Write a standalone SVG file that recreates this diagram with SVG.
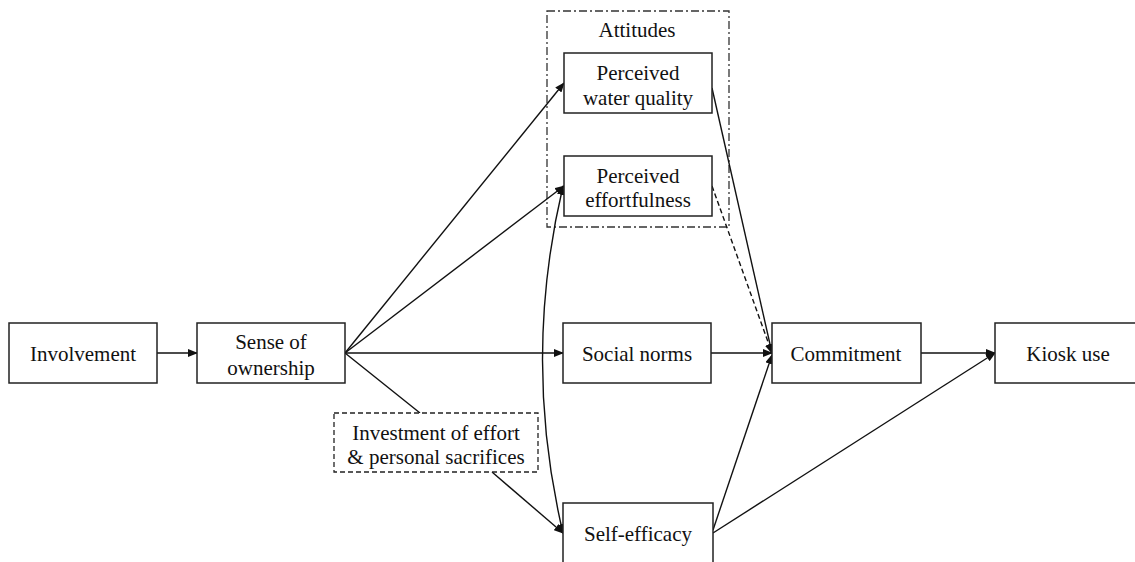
<svg xmlns="http://www.w3.org/2000/svg" width="1135" height="562" viewBox="0 0 1135 562">
<style>
.box{fill:#fff;stroke:#222;stroke-width:1.5}
.dash{fill:#fff;stroke:#222;stroke-width:1.3;stroke-dasharray:5,3}
.dd{fill:none;stroke:#333;stroke-width:1.3;stroke-dasharray:8,3,2,3}
.t{font-family:"Liberation Serif","Times New Roman",serif;font-size:21px;fill:#111;text-anchor:middle}
.c{fill:none;stroke:#111;stroke-width:1.4}
.cd{fill:none;stroke:#111;stroke-width:1.4;stroke-dasharray:5,3}
</style>
<defs>
<marker id="a" markerWidth="10" markerHeight="8" refX="9" refY="4" orient="auto" markerUnits="userSpaceOnUse">
<path d="M0,0 L10,4 L0,8 Z" fill="#111"/>
</marker>
<marker id="as" markerWidth="10" markerHeight="8" refX="1" refY="4" orient="auto" markerUnits="userSpaceOnUse">
<path d="M10,0 L0,4 L10,8 Z" fill="#111"/>
</marker>
</defs>
<rect fill="#fff" width="1135" height="562"/>
<g id="attitudes-group">
<rect class="dd" x="547" y="11" width="182" height="216"/>
<text class="t" x="637" y="37">Attitudes</text>
</g>
<g id="connectors">
<line class="c" x1="157" y1="353" x2="197" y2="353" marker-end="url(#a)"/>
<line class="c" x1="345" y1="353" x2="564" y2="83" marker-end="url(#a)"/>
<line class="c" x1="345" y1="353" x2="564" y2="186" marker-end="url(#a)"/>
<line class="c" x1="345" y1="353" x2="563" y2="353" marker-end="url(#a)"/>
<line class="c" x1="345" y1="353" x2="420" y2="413"/>
<line class="c" x1="492" y1="472" x2="563" y2="533" marker-end="url(#a)"/>
<path class="c" d="M563,186 Q522,360 563,533" marker-start="url(#as)" marker-end="url(#a)"/>
<line class="c" x1="712" y1="88" x2="772" y2="353" marker-end="url(#a)"/>
<line class="cd" x1="712" y1="186" x2="772" y2="353" marker-end="url(#a)"/>
<line class="c" x1="711" y1="353" x2="772" y2="353" marker-end="url(#a)"/>
<line class="c" x1="713" y1="530" x2="772" y2="355" marker-end="url(#a)"/>
<line class="c" x1="713" y1="533" x2="995" y2="353" marker-end="url(#a)"/>
<line class="c" x1="921" y1="353" x2="995" y2="353" marker-end="url(#a)"/>
</g>
<g id="involvement">
<rect class="box" x="9" y="323" width="148" height="60"/>
<text class="t" x="83" y="361">Involvement</text>
</g>
<g id="sense-of-ownership">
<rect class="box" x="197" y="323" width="148" height="60"/>
<text class="t" x="271" y="349">Sense of</text>
<text class="t" x="271" y="375">ownership</text>
</g>
<g id="water-quality">
<rect class="box" x="564" y="53" width="148" height="60"/>
<text class="t" x="638" y="80">Perceived</text>
<text class="t" x="638" y="105">water quality</text>
</g>
<g id="effortfulness">
<rect class="box" x="564" y="156" width="148" height="60"/>
<text class="t" x="638" y="183">Perceived</text>
<text class="t" x="638" y="207">effortfulness</text>
</g>
<g id="social-norms">
<rect class="box" x="563" y="323" width="148" height="60"/>
<text class="t" x="637" y="361">Social norms</text>
</g>
<g id="investment">
<rect class="dash" x="334" y="413" width="204" height="59"/>
<text class="t" x="436" y="440">Investment of effort</text>
<text class="t" x="436" y="464">&amp; personal sacrifices</text>
</g>
<g id="self-efficacy">
<rect class="box" x="563" y="503" width="150" height="62"/>
<text class="t" x="638" y="541">Self-efficacy</text>
</g>
<g id="commitment">
<rect class="box" x="772" y="323" width="149" height="60"/>
<text class="t" x="846" y="361">Commitment</text>
</g>
<g id="kiosk-use">
<rect class="box" x="995" y="323" width="145" height="60"/>
<text class="t" x="1068" y="361">Kiosk use</text>
</g>
</svg>
